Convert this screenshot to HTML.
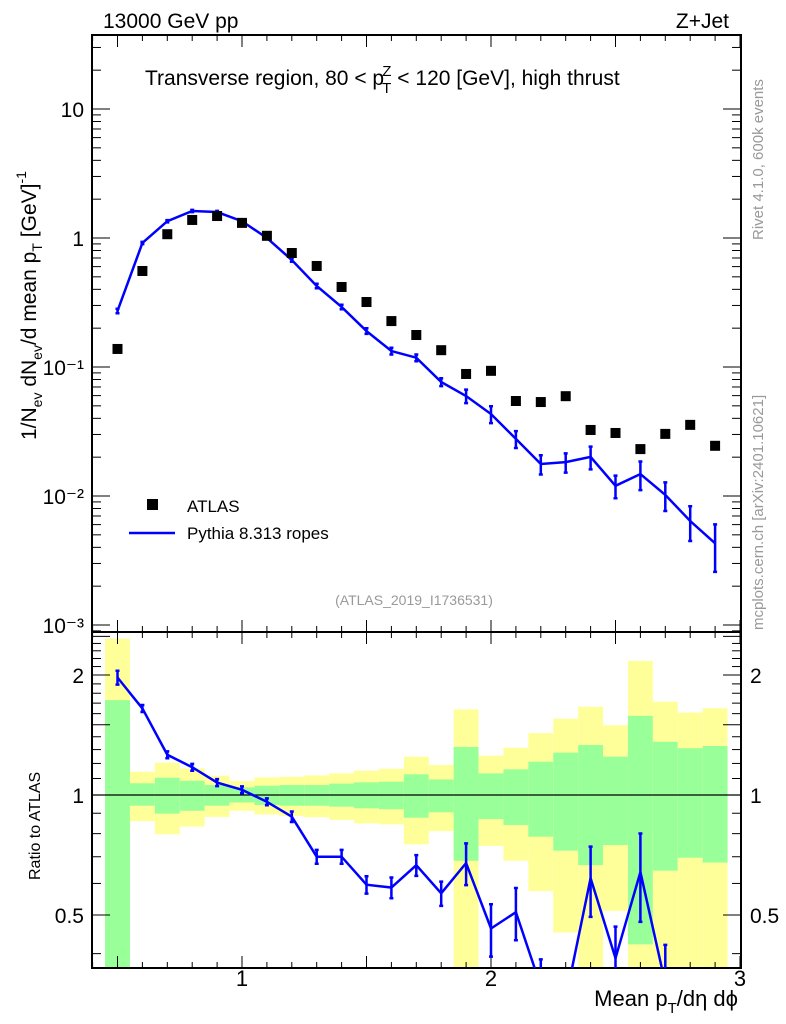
<!DOCTYPE html>
<html><head><meta charset="utf-8"><style>
html,body{margin:0;background:#fff;width:786px;height:1024px;overflow:hidden;position:relative}
svg{display:block;font-family:"Liberation Sans",sans-serif}
</style></head><body>
<svg id="c" style="position:absolute;left:0;top:0" width="786" height="1024" viewBox="0 0 786 1024"></svg>
<svg style="position:absolute;left:0;top:0" width="786" height="1024">
<text x="103" y="28" font-size="21" font-family="Liberation Sans">13000 GeV pp</text>
<text x="729" y="28" font-size="21" font-family="Liberation Sans" text-anchor="end">Z+Jet</text>
<text x="145" y="85" font-size="21" font-family="Liberation Sans">Transverse region, 80 &lt; p<tspan font-size="15" dy="8" dx="-2">T</tspan><tspan font-size="15" dy="-17" dx="-9">Z</tspan><tspan dy="9"> &lt; 120 [GeV], high thrust</tspan></text>
<rect x="147" y="499" width="11" height="11" fill="#000"/>
<text x="187" y="512" font-size="17" font-family="Liberation Sans">ATLAS</text>
<line x1="129" x2="175" y1="533" y2="533" stroke="#0000ff" stroke-width="2.5"/>
<text x="187" y="539" font-size="17" font-family="Liberation Sans">Pythia 8.313 ropes</text>
<text x="414" y="605" font-size="14" fill="#999" font-family="Liberation Sans" text-anchor="middle">(ATLAS_2019_I1736531)</text>
<text transform="translate(763,240) rotate(-90)" font-size="15" fill="#999" font-family="Liberation Sans">Rivet 4.1.0,  600k events</text>
<text transform="translate(763,630) rotate(-90)" font-size="15" fill="#999" font-family="Liberation Sans">mcplots.cern.ch [arXiv:2401.10621]</text>
<text transform="translate(36,440) rotate(-90)" font-size="21" font-family="Liberation Sans">1/N<tspan font-size="14" dy="6">ev</tspan><tspan dy="-6"> dN</tspan><tspan font-size="14" dy="6">ev</tspan><tspan dy="-6">/d mean p</tspan><tspan font-size="14" dy="6">T</tspan><tspan dy="-6"> [GeV]</tspan><tspan font-size="14" dy="-10">-1</tspan></text>
<text transform="translate(40,880) rotate(-90)" font-size="16" font-family="Liberation Sans">Ratio to ATLAS</text>
<text x="738" y="1006" font-size="22" font-family="Liberation Sans" text-anchor="end">Mean p<tspan font-size="15" dy="7">T</tspan><tspan dy="-7">/dη dϕ</tspan></text>
</svg>
<script>
const xs=[0.5,0.6,0.7,0.8,0.9,1.0,1.1,1.2,1.3,1.4,1.5,1.6,1.7,1.8,1.9,2.0,2.1,2.2,2.3,2.4,2.5,2.6,2.7,2.8,2.9];
const atlas=[0.138,0.555,1.07,1.38,1.48,1.31,1.04,0.765,0.607,0.417,0.319,0.227,0.177,0.135,0.0883,0.0934,0.0545,0.0535,0.0594,0.0325,0.0308,0.0231,0.0303,0.0356,0.0245];
const mc=[0.272,0.915,1.35,1.62,1.59,1.35,1.0,0.675,0.425,0.292,0.19,0.133,0.118,0.0765,0.0596,0.0432,0.0277,0.0177,0.0183,0.0201,0.012,0.0148,0.0102,0.0064,0.0043];
const mcErr=[0.04,0.02,0.02,0.02,0.02,0.02,0.02,0.03,0.04,0.04,0.05,0.06,0.06,0.07,0.12,0.15,0.15,0.17,0.17,0.2,0.2,0.25,0.25,0.3,0.4];
const yelHi=[2.47,1.144,1.205,1.166,1.118,1.084,1.107,1.111,1.12,1.133,1.151,1.164,1.248,1.189,1.64,1.255,1.314,1.43,1.554,1.665,1.496,2.17,1.714,1.61,1.65];
const grnHi=[1.73,1.07,1.105,1.086,1.059,1.045,1.055,1.059,1.059,1.068,1.076,1.08,1.127,1.094,1.32,1.133,1.16,1.212,1.277,1.335,1.248,1.58,1.36,1.31,1.327];
const grnLo=[0.3,0.94,0.898,0.913,0.94,0.958,0.944,0.94,0.94,0.935,0.926,0.921,0.877,0.905,0.684,0.87,0.841,0.786,0.725,0.667,0.749,0.422,0.646,0.696,0.677];
const yelLo=[0.3,0.86,0.797,0.833,0.881,0.913,0.894,0.886,0.879,0.866,0.849,0.844,0.752,0.812,0.3,0.745,0.684,0.574,0.452,0.3,0.512,0.3,0.3,0.3,0.3];
const yTicks=["10\u207B\u00B3","10\u207B\u00B2","10\u207B\u00B9","1","10"];
const yTickVals=[0.001,0.01,0.1,1,10];
const rTickVals=[0.5,1,2];
const xTickVals=[1,2,3];

const NS="http://www.w3.org/2000/svg",S=document.getElementById('c');
const L=92,R=741,T=35,M=632,B=968;
const X=v=>242+(v-1)*249;
const Y=v=>238-Math.log10(v)*129;
const RY=v=>795-Math.log2(v)*120;
function el(t,a,p){const e=document.createElementNS(NS,t);for(const k in a)e.setAttribute(k,a[k]);(p||S).appendChild(e);return e;}
function tx(s,a,p){const e=el('text',a,p);e.textContent=s;return e;}
const defs=el('defs',{});
const c1=el('clipPath',{id:'cm'},defs);el('rect',{x:L,y:T,width:R-L,height:M-T},c1);
const c2=el('clipPath',{id:'cr'},defs);el('rect',{x:L,y:M,width:R-L,height:B-M},c2);

const gb=el('g',{'clip-path':'url(#cr)'});


xs.forEach((x,i)=>{
 const x0=X(x-0.05),w=X(x+0.05)-x0;
 const y1=el('rect',{x:x0,y:RY(yelHi[i]),width:w,height:RY(yelLo[i])-RY(yelHi[i]),fill:'#ffff99'},gb);
 
 
 const g1=el('rect',{x:x0,y:RY(grnHi[i]),width:w,height:RY(grnLo[i])-RY(grnHi[i]),fill:'#99ff99'},gb);
 
 
});
el('line',{x1:L,x2:R,y1:RY(1),y2:RY(1),stroke:'#000','stroke-width':1.3});

el('rect',{x:L,y:T,width:R-L,height:M-T,fill:'none',stroke:'#000','stroke-width':2});
el('rect',{x:L,y:M,width:R-L,height:B-M,fill:'none',stroke:'#000','stroke-width':2});

for(let k=4;k<=30;k++){const v=k/10,x=X(v);if(x<L||x>R)continue;const big=k%5==0?12:6;
 [[T,T+big],[M,M-big],[M,M+big],[B,B-big]].forEach(p=>el('line',{x1:x,x2:x,y1:p[0],y2:p[1],stroke:'#000','stroke-width':1}));}
xTickVals.forEach(v=>{const t=tx(String(v),{x:X(v),y:986,'font-size':22,'text-anchor':'middle'});
 
 });
for(let d=-4;d<=1;d++)for(let m=1;m<10;m++){const v=m*Math.pow(10,d),y=Y(v);if(y<T||y>M)continue;const len=m==1?18:9;
 el('line',{x1:L,x2:L+len,y1:y,y2:y,stroke:'#000'});el('line',{x1:R,x2:R-len,y1:y,y2:y,stroke:'#000'});}
yTickVals.forEach((v,i)=>{const t=tx(yTicks[i],{x:84,y:Y(v)+8,'font-size':21,'text-anchor':'end'});
 
 });
for(let k=3;k<=26;k++){const v=k/10,y=RY(v);if(y<M||y>B)continue;const len=(k%5==0)?18:9;
 el('line',{x1:L,x2:L+len,y1:y,y2:y,stroke:'#000'});el('line',{x1:R,x2:R-len,y1:y,y2:y,stroke:'#000'});}
rTickVals.forEach(v=>{[84,750].forEach((xx,j)=>{const t=tx(String(v),{x:xx,y:RY(v)+8,'font-size':21,'text-anchor':j?'start':'end'});
 
 });});

const gm=el('g',{'clip-path':'url(#cm)'});
const pl=el('polyline',{points:xs.map((x,i)=>X(x)+','+Y(mc[i])).join(' '),fill:'none',stroke:'#0000ff','stroke-width':2.5},gm);


xs.forEach((x,i)=>{const a=Y(mc[i]*(1+mcErr[i])),b=Y(mc[i]*(1-mcErr[i]));
 const e=el('path',{d:`M${X(x)},${a}V${b}M${X(x)-2},${a}h4M${X(x)-2},${b}h4`,stroke:'#0000ff','stroke-width':2.5,fill:'none'},gm);
 
 
 const r=el('rect',{x:X(x)-5,y:Y(atlas[i])-5,width:10,height:10,fill:'#000'},gm);
 
 });
const gr=el('g',{'clip-path':'url(#cr)'});
const rl=el('polyline',{points:xs.map((x,i)=>X(x)+','+RY(mc[i]/atlas[i])).join(' '),fill:'none',stroke:'#0000ff','stroke-width':2.5},gr);


xs.forEach((x,i)=>{const r=mc[i]/atlas[i],a=RY(r*(1+mcErr[i])),b=RY(r*(1-mcErr[i]));
 const e=el('path',{d:`M${X(x)},${a}V${b}M${X(x)-2},${a}h4M${X(x)-2},${b}h4`,stroke:'#0000ff','stroke-width':2.5,fill:'none'},gr);
 
 });
</script>
</body></html>
